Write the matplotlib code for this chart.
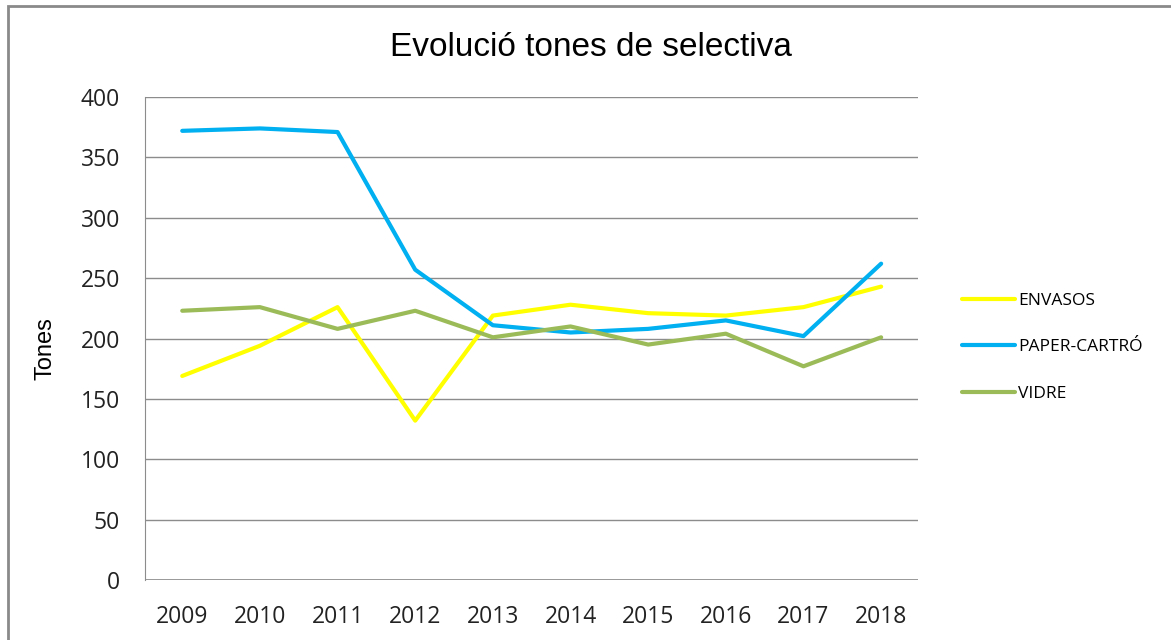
import matplotlib.pyplot as plt
from matplotlib.patches import Rectangle

years = ['2009', '2010', '2011', '2012', '2013', '2014', '2015', '2016', '2017', '2018']
envasos = [169, 194, 226, 132, 219, 228, 221, 219, 226, 243]
paper = [372, 374, 371, 257, 211, 205, 208, 215, 202, 262]
vidre = [223, 226, 208, 223, 201, 210, 195, 204, 177, 201]

fig = plt.figure(figsize=(11.71, 6.4), dpi=100)
ax = fig.add_axes([0.1238, 0.0937, 0.6605, 0.7547])

x = range(len(years))
ax.plot(x, envasos, color='#FFFF00', lw=3, label='ENVASOS', solid_capstyle='round')
ax.plot(x, paper, color='#00B0F0', lw=3, label='PAPER-CARTRÓ', solid_capstyle='round')
ax.plot(x, vidre, color='#9BBB59', lw=3, label='VIDRE', solid_capstyle='round')

ax.set_xlim(-0.48, 9.48)
ax.set_ylim(0, 400)
ax.set_yticks(range(0, 401, 50))
ax.set_xticks(list(x))
ax.set_xticklabels(years)
ax.yaxis.grid(True, color='#8c8c8c', lw=1)
ax.set_axisbelow(True)
for s in ['top', 'right', 'bottom']:
    ax.spines[s].set_visible(False)
ax.spines['left'].set_color('#8c8c8c')
ax.axhline(0, color='#8c8c8c', lw=1.2)
ax.tick_params(length=0, labelsize=16.5, colors='#222222')
ax.tick_params(axis='x', pad=18)
ax.tick_params(axis='y', pad=18)
for lab in ax.get_xticklabels() + ax.get_yticklabels():
    lab.set_family('Open Sans')

ax.set_ylabel('Tones', fontsize=17, family='Liberation Sans')
ax.yaxis.set_label_coords(-0.115, 0.48)
fig.text(0.505, 0.926, 'Evolució tones de selectiva', ha='center', va='center',
         fontsize=24, family='Liberation Sans')

leg = ax.legend(loc='center left', bbox_to_anchor=(1.036, 0.482), frameon=False,
                prop={'family': 'Open Sans', 'size': 12.5}, handlelength=3.05,
                handletextpad=0.2, labelspacing=1.75)

# chart area border (top and left visible)
fig.add_artist(Rectangle((8 / 1171, -0.1), 1.2, 1.1 - 6 / 640, transform=fig.transFigure,
                         fill=False, edgecolor='#8a8a8a', lw=2))

fig.savefig('out.png', dpi=100)
